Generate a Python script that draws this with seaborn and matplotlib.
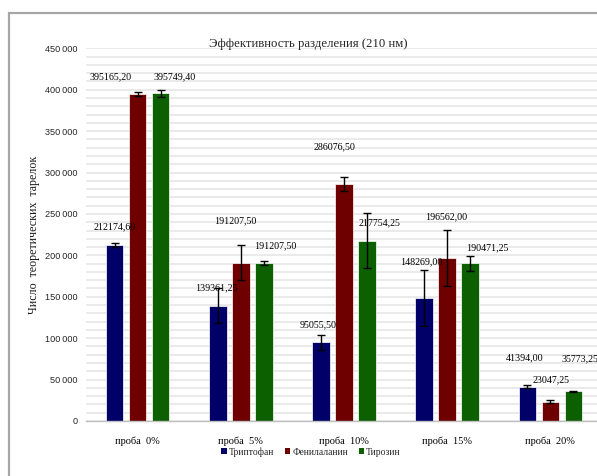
import matplotlib
matplotlib.use("Agg")
import matplotlib.pyplot as plt
from matplotlib.patches import Patch, Rectangle
from matplotlib.container import BarContainer
from matplotlib.ticker import MultipleLocator, FuncFormatter
import seaborn as sns
import pandas as pd

# ---- data ----
categories = ["проба  0%", "проба  5%", "проба  10%", "проба  15%", "проба  20%"]
series = ["Триптофан", "Фенилаланин", "Тирозин"]
tryptophan = [212174.60, 139361.25, 95055.50, 148269.00, 41394.00]
phenylalanine = [395165.20, 191207.50, 286076.50, 196562.00, 23047.25]
tyrosine = [395749.40, 191207.50, 217754.25, 190471.25, 35773.25]
err_tryptophan = [2400, 21600, 8800, 34000, 1500]
err_phenylalanine = [2400, 21300, 8900, 34000, 1800]
err_tyrosine = [4000, 2400, 33000, 8800, 1000]
title = "Эффективность разделения (210 нм)"
ylabel = "Число  теоретических  тарелок"

# ---- styling (positions of data labels, pixels relative to bar top centre) ----
label_offsets = {
    0: [(0, 18), (-1, 18), (-3, 17), (-3, 36), (-3, 29)],
    1: [(-27, 17), (-6, 42), (-9, 37), (-1, 41), (1, 22)],
    2: [(14, 16), (11, 17), (12, 18), (17, 15), (6, 33)],
}
colors = ["#000068", "#6e0000", "#0c6000"]
serif = ["Liberation Serif", "DejaVu Serif"]
narrow = ["Liberation Sans Narrow", "Liberation Sans", "DejaVu Sans"]

values = [tryptophan, phenylalanine, tyrosine]
errors = [err_tryptophan, err_phenylalanine, err_tyrosine]
rows = []
for s, vals in zip(series, values):
    for c, v in zip(categories, vals):
        rows.append({"cat": c, "series": s, "value": v})
df = pd.DataFrame(rows)

sns.set_theme(style="white")
plt.rcParams["font.family"] = serif

W, H = 597, 476
fig = plt.figure(figsize=(W / 100, H / 100), dpi=100)
ax = fig.add_axes([86 / W, 1 - 421 / H, (602 - 86) / W, (421 - 48.3) / H])

sns.barplot(data=df, x="cat", y="value", hue="series", order=categories,
            hue_order=series, palette=colors, errorbar=None, width=0.67,
            gap=0.24, legend=False, saturation=1, ax=ax,
            edgecolor="white", linewidth=0.5)

bar_conts = [c for c in ax.containers if isinstance(c, BarContainer)]
for i, cont in enumerate(bar_conts):
    for j, bar in enumerate(cont.patches):
        xc = bar.get_x() + bar.get_width() / 2
        top = bar.get_height()
        ax.errorbar(xc, top, yerr=errors[i][j], fmt="none", ecolor="black",
                    elinewidth=1, capsize=3, capthick=1, zorder=4)
        dx, dy = label_offsets[i][j]
        txt = f"{values[i][j]:.2f}".replace(".", ",")
        ax.annotate(txt, xy=(xc, top), xytext=(dx, dy), textcoords="offset pixels",
                    ha="center", va="center", fontsize=7.2, family=serif,
                    color="black", zorder=5)

ax.set_xlim(-0.5, 4.5)
ax.set_ylim(0, 450000)
ax.yaxis.set_major_locator(MultipleLocator(50000))
ax.yaxis.set_minor_locator(MultipleLocator(10000))
ax.yaxis.set_major_formatter(FuncFormatter(lambda v, p: f"{int(v):,}".replace(",", "\u2009")))
ax.grid(True, which="both", axis="y", color="#e8e8e8", linewidth=1.3)
ax.set_axisbelow(True)
for s in ["top", "right", "left"]:
    ax.spines[s].set_visible(False)
ax.spines["bottom"].set_color("#bfbfbf")
ax.spines["bottom"].set_linewidth(1)
ax.tick_params(axis="both", which="both", length=0)
ax.tick_params(axis="y", pad=6, labelsize=6.6, labelcolor="#262626")
for lab in ax.get_yticklabels():
    lab.set_family(narrow)
ax.tick_params(axis="x", pad=11, labelsize=7.5, labelcolor="black")
ax.set_xlabel("")
ax.set_ylabel(ylabel, fontsize=8.6, family=serif, color="#1a1a1a")
ax.yaxis.set_label_coords(-(86 - 40) / (602 - 86), 0.5)

fig.text(308 / W, 1 - 43.5 / H, title, ha="center", va="center", fontsize=9.2, family=serif)

handles = [Patch(facecolor=c, edgecolor="none") for c in colors]
fig.legend(handles, series, loc="center", bbox_to_anchor=(311 / W, 1 - 452 / H), ncol=3,
           frameon=False, handlelength=0.6, handleheight=0.6,
           handletextpad=0.2, columnspacing=1.1, borderpad=0, prop={"family": serif, "size": 6.9})

fig.patches.append(Rectangle((9.3 / W, -0.1), 1.2, 1.1 - 13.3 / H, transform=fig.transFigure,
                             fill=False, edgecolor="#a6a6a6", linewidth=1.6, zorder=0))

fig.savefig("out.png", dpi=100)
